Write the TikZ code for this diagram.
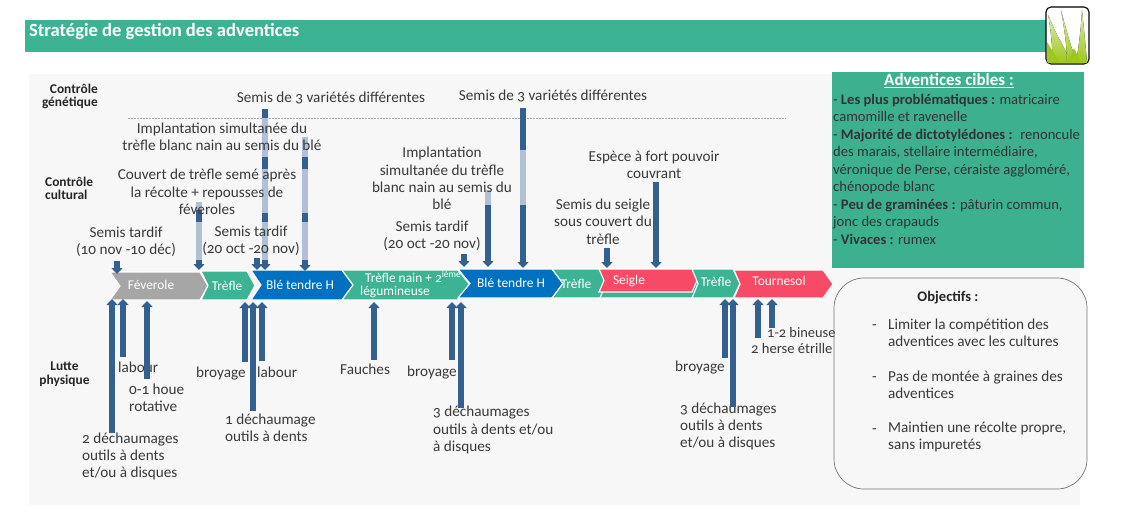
\documentclass[tikz,border=0pt]{standalone}
\usepackage{fontspec}
\setmainfont{Carlito}[Numbers=OldStyle]
\usetikzlibrary{arrows.meta}
\definecolor{grn}{HTML}{3CB494}
\definecolor{grnb}{HTML}{3CB08F}
\definecolor{blu}{HTML}{0070C0}
\definecolor{rd}{HTML}{F64A66}
\definecolor{gry}{HTML}{A6A6A6}
\definecolor{bgc}{HTML}{F7F7F7}
\definecolor{arrc}{HTML}{34608F}
\definecolor{arrl}{HTML}{B0C0D6}
\definecolor{txc}{HTML}{3A3A3A}
\definecolor{lime}{HTML}{9CC81E}
\definecolor{limel}{HTML}{DDECB0}
\tikzset{
  x=1pt,y=-1pt,
  txt/.style={font=\fontsize{15.2}{17.4}\selectfont,text=txc,align=center,inner sep=0pt},
  txl/.style={txt,align=left,anchor=west},
  side/.style={font=\bfseries\fontsize{13.4}{13.5}\selectfont,text=black!85,inner sep=0pt},
  chv/.style={font=\fontsize{13.4}{15}\selectfont,text=white,inner sep=0pt},
  arr/.style={line width=5.5pt,draw=arrc,-{Triangle[width=11pt,length=6pt]}},
  lite/.style={line width=5.5pt,draw=arrl},
  chevfill/.style={fill=#1,draw=white,line width=1.1pt,line join=miter},
  blade/.style={top color=limel,bottom color=lime}
}
% name, x, y start, y end
\newcommand{\varr}[4]{\coordinate (#1a) at (#2,#3);\coordinate (#1b) at (#2,#4);\draw[arr] (#1a) -- (#1b);}
\newcommand{\vlite}[4]{\coordinate (#1a) at (#2,#3);\coordinate (#1b) at (#2,#4);\draw[lite] (#1a) -- (#1b);}
% fill, xleft, xnotch, xshoulder, xtip, ytop, ybottom
\newcommand{\chevr}[7]{\path[chevfill=#1] (#2,#6) -- (#4,#6) -- (#5,{(#6+#7)/2}) -- (#4,#7) -- (#2,#7) -- (#3,{(#6+#7)/2}) -- cycle;}
\begin{document}
\begin{tikzpicture}
\useasboundingbox (0,0) rectangle (1123,529);
\fill[white] (0,0) rectangle (1123,529);
\fill[bgc] (29,74) rectangle (1080,505);
\fill[grn] (25,20) rectangle (1047,52);
\node[font=\bfseries\fontsize{18.6}{20}\selectfont,text=white,anchor=west,inner sep=0pt] (title) at (29,32) {Stratégie de gestion des adventices};
% icon
\draw[black,line width=1.1pt,fill=white,rounded corners=5pt] (1046,7) rectangle (1089,64);
\begin{scope}
\clip[rounded corners=5pt] (1046,7) rectangle (1089,64);
\fill[blade] (1048,15) .. controls (1056,35) and (1066,50) .. (1071,63) -- (1053,63) .. controls (1052,45) and (1051,30) .. (1048,15) -- cycle;
\fill[blade] (1061,10) .. controls (1066,30) and (1072,50) .. (1077,63) -- (1067,63) .. controls (1067,45) and (1064,28) .. (1061,10) -- cycle;
\fill[blade] (1082,10) .. controls (1084,30) and (1086,50) .. (1087,63) -- (1076,63) .. controls (1079,45) and (1081,28) .. (1082,10) -- cycle;
\fill[lime] (1047,42) -- (1060,63) -- (1047,63) -- cycle;
\fill[lime] (1074,48) -- (1081,63) -- (1068,63) -- cycle;
\end{scope}
% green box
\fill[grnb] (832,72) rectangle (1084,268);
\node[font=\bfseries\fontsize{17}{17}\selectfont,text=white,inner sep=0pt] (cibles) at (949,81) {\underline{Adventices cibles :}};
\node[txl,text=black!80,anchor=north west,font=\fontsize{14.6}{17.5}\selectfont] (ciblestxt) at (833,94) {- \textbf{Les plus problématiques :} matricaire\\camomille et ravenelle\\- \textbf{Majorité de dictotylédones :}~ renoncule\\des marais, stellaire intermédiaire,\\véronique de Perse, céraiste aggloméré,\\chénopode blanc\\- \textbf{Peu de graminées :} pâturin commun,\\jonc des crapauds\\- \textbf{Vivaces :} rumex};
% objectives
\draw[black!55,fill=bgc,line width=0.7pt,rounded corners=30pt] (834,278) rectangle (1087,489);
\node[font=\bfseries\fontsize{14.6}{17}\selectfont,text=black!85,inner sep=0pt] (obj) at (948,298) {Objectifs :};
\node[txl] (o1d) at (872,327) {-};
\node[txl] (o1) at (888,333) {Limiter la compétition des\\adventices avec les cultures};
\node[txl] (o2d) at (872,379) {-};
\node[txl] (o2) at (888,385) {Pas de montée à graines des\\adventices};
\node[txl] (o3d) at (872,431) {-};
\node[txl] (o3) at (888,437) {Maintien une récolte propre,\\sans impuretés};
% dashed
\coordinate (da) at (128,118); \coordinate (db) at (786,118);
\draw[black!35,line width=0.4pt,dash pattern=on 2pt off 1pt] (da) -- (db);
% chevrons
\chevr{gry}{110}{120}{200}{208}{272}{300}
\chevr{grn}{552}{563}{703}{703}{269}{298}
\chevr{grn}{201}{208}{247}{255}{271}{300}
\chevr{blu}{251}{261}{342}{353}{270}{300}
\chevr{grn}{342}{353}{458}{470}{270}{300}
\chevr{blu}{458}{470}{552}{563}{269}{298}
\chevr{grn}{552}{563}{600}{606}{269}{298}
\chevr{rd}{599}{604}{692}{697}{269}{292}
\chevr{grn}{692}{698}{733}{740}{269}{298}
\chevr{rd}{734}{740}{823}{833}{270}{298}
\node[chv] (c1) at (151,285) {Féverole};
\node[chv] (c2) at (227,286) {Trèfle};
\node[chv] (c3) at (300,285) {Blé tendre H};
\node[chv,anchor=west] (c4a) at (365,277) {Trèfle nain + 2\textsuperscript{ième}};
\node[chv,anchor=west] (c4b) at (360,292) {légumineuse};
\node[chv] (c5) at (511,283) {Blé tendre H};
\node[chv] (c6) at (576,284) {Trèfle};
\node[chv] (c7) at (629,281) {Seigle};
\node[chv] (c8) at (716,282) {Trèfle};
\node[chv] (c9) at (779,281) {Tournesol};
% arrows down
\varr{d1}{117}{261}{274}
\varr{d2}{199}{202}{270}
\vlite{l2}{199}{222}{260}
\vlite{l2t}{199}{202}{210}
\varr{d3}{257}{258}{270}
\varr{d4}{265}{109}{270}
\vlite{l4a}{265}{118}{157}\vlite{l4b}{265}{169}{213}\vlite{l4c}{265}{222}{260}
\varr{d5}{305}{137}{271}
\vlite{l5a}{305}{137}{157}\vlite{l5b}{305}{169}{213}\vlite{l5c}{305}{222}{260}
\varr{d6}{464}{254}{267}
\varr{d7}{488}{190}{267}
\vlite{l7}{488}{190}{205}
\varr{d8}{523}{108}{268}
\vlite{l8}{523}{150}{205}
\varr{d9}{607}{248}{268}
\varr{d10}{656}{182}{268}
% upper text
\node[side,align=right,anchor=east] (g) at (98,96.5) {Contrôle\\génétique};
\node[side,align=left,anchor=west] (cu) at (45,188.5) {Contrôle\\cultural};
\node[side,align=center] (lu) at (64.5,374) {Lutte\\physique};
\node[txt] (t1) at (331,97.5) {Semis de 3 variétés différentes};
\node[txt] (t2) at (553,95.5) {Semis de 3 variétés différentes};
\node[txt] (t3) at (222,137) {Implantation simultanée du\\trèfle blanc nain au semis du blé};
\node[txt] (t4) at (207,192) {Couvert de trèfle semé après\\la récolte + repousses de\\féveroles};
\node[txt] (t5) at (126,242) {Semis tardif\\(10 nov -10 déc)};
\node[txt] (t6) at (251,241) {Semis tardif\\(20 oct -20 nov)};
\node[txt] (t7) at (442,178.5) {Implantation\\simultanée du trèfle\\blanc nain au semis du\\blé};
\node[txt] (t8) at (432,235.5) {Semis tardif\\(20 oct -20 nov)};
\node[txt] (t9) at (654,165) {Espèce à fort pouvoir\\couvrant};
\node[txt] (t10) at (603,221.5) {Semis du seigle\\sous couvert du\\trèfle};
% lower text
\node[txl] (b1) at (118,367) {labour};
\node[txl] (b2) at (129,398) {0-1 houe\\rotative};
\node[txl] (b3) at (82,456.5) {2 déchaumages\\outils à dents\\et/ou à disques};
\node[txl] (b4) at (196,374) {broyage};
\node[txl] (b5) at (257,372) {labour};
\node[txl] (b6) at (225,428) {1 déchaumage\\outils à dents};
\node[txl] (b7) at (340,369) {Fauches};
\node[txl] (b8) at (407,373) {broyage};
\node[txl] (b9) at (433,430) {3 déchaumages\\outils à dents et/ou\\à disques};
\node[txl] (b10) at (675,368) {broyage};
\node[txl] (b11) at (680,426.5) {3 déchaumages\\outils à dents\\et/ou à disques};
\node[txl,font=\fontsize{14.4}{17}\selectfont] (b12) at (767,333) {1-2 bineuse};
\node[txl,font=\fontsize{14.6}{17}\selectfont] (b13) at (751,348) {2 herse étrille};
% arrows up
\varr{u1}{112}{433}{299}
\varr{u2}{123}{357}{299}
\varr{u3}{147}{379}{301}
\varr{u4}{245}{362}{302}
\varr{u5}{253}{411}{302}
\varr{u6}{262}{361}{302}
\varr{u7}{374}{360}{302}
\varr{u8}{452}{360}{302}
\varr{u9}{461}{408}{302}
\varr{u10}{725}{358}{299}
\varr{u11}{733}{407}{299}
\varr{u12}{758}{338}{299}
\varr{u13}{772}{328}{299}
\end{tikzpicture}
\end{document}
